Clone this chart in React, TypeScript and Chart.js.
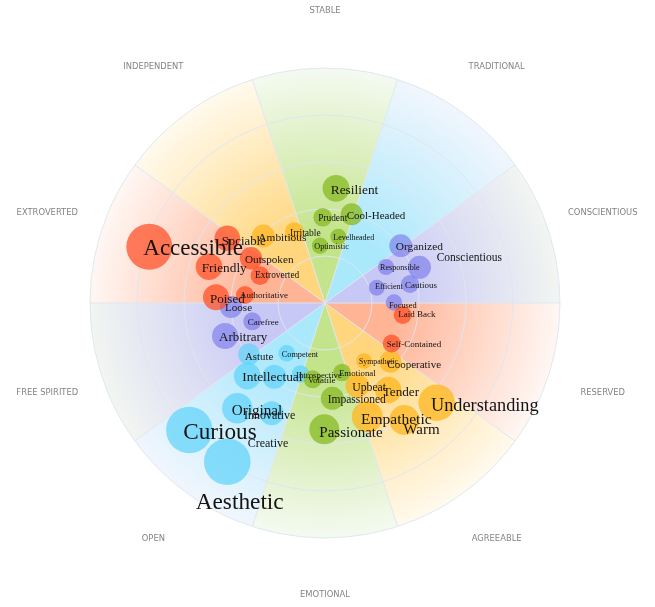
import React, { useEffect, useRef } from "react";
import { Chart, registerables } from "chart.js";

Chart.register(...registerables);

// ---- Axis / sector definitions ----
const sectorNames = ["STABLE", "TRADITIONAL", "CONSCIENTIOUS", "RESERVED", "AGREEABLE", "EMOTIONAL", "OPEN", "FREE SPIRITED", "EXTROVERTED", "INDEPENDENT"];
const sectorAngles = [90, 54, 18, -18, -54, -90, -126, -162, 162, 126];
const sectorInner = ["rgb(196,228,140)", "rgb(170,232,252)", "rgb(200,200,246)", "rgb(255,180,150)", "rgb(255,214,125)", "rgb(196,228,140)", "rgb(170,232,252)", "rgb(200,200,246)", "rgb(255,180,150)", "rgb(255,214,125)"];
const sectorOuter = ["rgb(244,250,241)", "rgb(241,246,253)", "rgb(242,245,241)", "rgb(255,247,244)", "rgb(255,250,238)", "rgb(244,250,241)", "rgb(241,246,253)", "rgb(242,245,241)", "rgb(255,247,244)", "rgb(255,250,238)"];
const ringValues = [47, 94, 141, 188, 235];
const axisLabelRadius = 292;

// ---- Words ----
const groupColors = ["rgba(255,72,30,0.7)", "rgba(255,182,30,0.75)", "rgba(135,185,35,0.75)", "rgba(95,210,250,0.72)", "rgba(115,115,235,0.6)"];

const words = [
  "Accessible", "Sociable", "Outspoken", "Friendly", "Extroverted", "Poised", "Authoritative", "Laid Back", "Self-Contained",
  "Ambitious", "Irritable", "Sympathetic", "Cooperative", "Upbeat", "Tender", "Understanding", "Empathetic", "Warm",
  "Resilient", "Prudent", "Cool-Headed", "Levelheaded", "Optimistic", "Volatile", "Emotional", "Impassioned", "Passionate",
  "Astute", "Competent", "Intellectual", "Creative", "Introspective", "Original", "Innovative", "Curious", "Aesthetic",
  "Loose", "Carefree", "Arbitrary", "Organized", "Conscientious", "Responsible", "Efficient", "Cautious", "Focused",
];
const groups = [
  0, 0, 0, 0, 0, 0, 0, 0, 0,
  1, 1, 1, 1, 1, 1, 1, 1, 1,
  2, 2, 2, 2, 2, 2, 2, 2, 2,
  3, 3, 3, 3, 3, 3, 3, 3, 3,
  4, 4, 4, 4, 4, 4, 4, 4, 4,
];
const bubbleX = [
  -175.7, -97.7, -74, -116, -65, -109, -80, 77.7, 66.7,
  -61.7, -30.7, 39, 65.5, 32.3, 63.3, 111.7, 42.3, 79.3,
  11, -2.3, 26.7, 13.3, -5, -12.3, 17, 7.3, -0.7,
  -76, -38.3, -77.7, -50.7, -24.5, -87.7, -53.3, -135.7, -97.7,
  -94, -72.7, -100, 75.7, 94.5, 61, 51.7, 85, 69,
];
const bubbleY = [
  56.3, 64.7, 44.7, 36.3, 27.3, 5.7, 8, -12, -40.5,
  67, 71.3, -58, -58.7, -83, -87, -99.7, -113.7, -117,
  114.7, 85.7, 88.7, 66.3, 57.3, -76.3, -69.5, -95.3, -126.3,
  -51.3, -50.3, -73, -73.7, -71, -105.3, -110.3, -127, -158.7,
  -4, -18.3, -33, 57.3, 35.7, 36, 15.3, 19, 0.5,
];
const weights = [
  23, 12.8, 11.2, 13.3, 9.4, 13, 9, 9, 9,
  11.4, 9.5, 7.8, 11, 11.7, 13.2, 18.3, 15.5, 15,
  13.4, 9.3, 11, 8, 8.2, 9, 8.8, 11.5, 15,
  10.8, 8.3, 13.4, 12, 8.8, 15.2, 12, 23.2, 23.3,
  11.1, 9, 13, 11.4, 11.5, 8.1, 8, 9, 8.3,
];
const labelX = [
  -181.7, -103.3, -80, -123.3, -70, -115, -85, 73.3, 61.7,
  -66.7, -35, 34, 62.3, 27.3, 57.7, 106, 36, 78.3,
  5.7, -6.7, 21.7, 8.3, -10.7, -17.3, 14, 2.7, -5.7,
  -80, -43.3, -82.7, -77.3, -29, -93.3, -81, -141.7, -129.3,
  -100, -77.3, -106, 70.7, 111.7, 55, 50, 80, 64,
];
const labelY = [
  54, 61.3, 43, 34.7, 27, 3, 7, -12, -42,
  65.3, 70, -59.3, -62, -84.7, -89.7, -102.7, -117, -127,
  113, 84.7, 87, 64.7, 55.7, -78, -71, -97, -129.7,
  -53.7, -52.3, -74.7, -141, -73, -107.7, -113, -130.3, -200.3,
  -4.7, -19.3, -34.7, 56.3, 45.3, 34.7, 15.7, 17.3, -2.7,
];

// centre of the wheel in the 655x607 picture
const CENTER_X = 325;
const CENTER_Y = 303;

const backgroundPlugin = {
  id: "polarBackground",
  beforeDatasetsDraw(chart: any) {
    const { ctx, scales } = chart;
    const xs = scales.x;
    const ys = scales.y;
    const cx = xs.getPixelForValue(0);
    const cy = ys.getPixelForValue(0);
    const unit = xs.getPixelForValue(1) - cx;
    const R = ringValues[ringValues.length - 1] * unit;
    ctx.save();
    sectorAngles.forEach((deg, i) => {
      const a0 = (-(deg + 18) * Math.PI) / 180;
      const a1 = (-(deg - 18) * Math.PI) / 180;
      const g = ctx.createRadialGradient(cx, cy, 0, cx, cy, R);
      g.addColorStop(0, sectorInner[i]);
      g.addColorStop(0.3, sectorInner[i]);
      g.addColorStop(1, sectorOuter[i]);
      ctx.beginPath();
      ctx.moveTo(cx, cy);
      ctx.arc(cx, cy, R, a0, a1);
      ctx.closePath();
      ctx.fillStyle = g;
      ctx.fill();
    });
    ctx.lineWidth = 1;
    ctx.strokeStyle = "rgba(222,230,240,0.95)";
    ringValues.forEach((v) => {
      ctx.beginPath();
      ctx.arc(cx, cy, v * unit, 0, Math.PI * 2);
      ctx.stroke();
    });
    sectorAngles.forEach((deg) => {
      const a = ((deg + 18) * Math.PI) / 180;
      ctx.beginPath();
      ctx.moveTo(cx, cy);
      ctx.lineTo(cx + R * Math.cos(a), cy - R * Math.sin(a));
      ctx.stroke();
    });
    ctx.fillStyle = "#848484";
    ctx.font = '8.4px "DejaVu Sans", sans-serif';
    ctx.textAlign = "center";
    ctx.textBaseline = "middle";
    sectorNames.forEach((name, i) => {
      const a = (sectorAngles[i] * Math.PI) / 180;
      const r = axisLabelRadius * unit;
      ctx.fillText(name, cx + r * Math.cos(a), cy - r * Math.sin(a));
    });
    ctx.restore();
  },
  afterDatasetsDraw(chart: any) {
    const { ctx, scales } = chart;
    const xs = scales.x;
    const ys = scales.y;
    ctx.save();
    ctx.fillStyle = "#141414";
    ctx.textAlign = "left";
    ctx.textBaseline = "middle";
    words.forEach((w, i) => {
      ctx.font = `${weights[i]}px "Liberation Serif", "DejaVu Serif", serif`;
      ctx.fillText(w, xs.getPixelForValue(labelX[i]), ys.getPixelForValue(labelY[i]));
    });
    ctx.restore();
  },
};

export default function App() {
  const ref = useRef<HTMLCanvasElement | null>(null);
  useEffect(() => {
    document.body.style.margin = "0";
    const canvas = ref.current;
    if (!canvas) return;
    const datasets = groupColors.map((color, g) => ({
      label: "group" + g,
      data: words
        .map((_, i) => i)
        .filter((i) => groups[i] === g)
        .map((i) => ({ x: bubbleX[i], y: bubbleY[i], r: weights[i] })),
      backgroundColor: color,
      borderWidth: 0,
      borderColor: "transparent",
    }));
    const chart: any = new Chart(canvas, {
      type: "bubble",
      data: { datasets },
      options: {
        animation: false,
        responsive: false,
        maintainAspectRatio: false,
        devicePixelRatio: 1,
        events: [],
        layout: { padding: 0 },
        plugins: { legend: { display: false }, tooltip: { enabled: false } },
        scales: {
          x: { type: "linear", min: -325, max: 330, display: false },
          y: { type: "linear", min: -304, max: 303, display: false },
        },
      },
      plugins: [backgroundPlugin],
    } as any);
    // make one data unit equal one pixel, with the centre at (CENTER_X, CENTER_Y)
    const area = chart.chartArea;
    chart.options.scales.x.min = area.left - CENTER_X;
    chart.options.scales.x.max = area.right - CENTER_X;
    chart.options.scales.y.min = CENTER_Y - area.bottom;
    chart.options.scales.y.max = CENTER_Y - area.top;
    chart.update();
    return () => chart.destroy();
  }, []);
  return (
    <div style={{ position: "fixed", left: 0, top: 0, width: 655, height: 607, background: "#fff" }}>
      <canvas ref={ref} width={655} height={607} style={{ display: "block", width: 655, height: 607 }} />
    </div>
  );
}
